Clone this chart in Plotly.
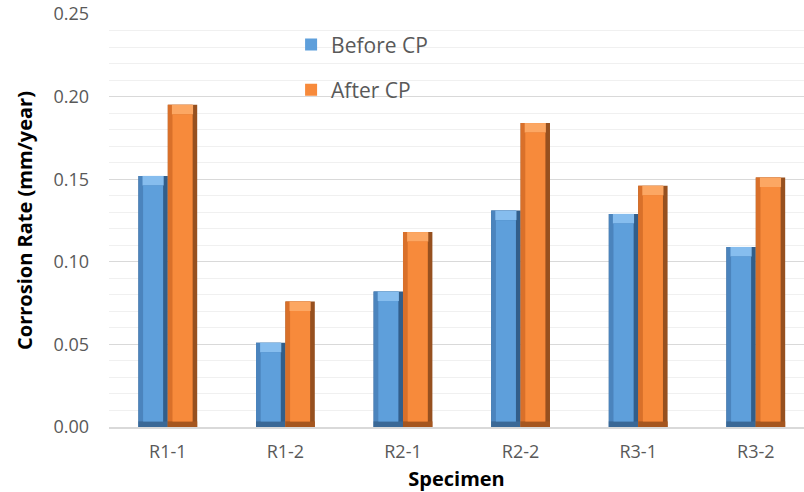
import plotly.graph_objects as go

# Corrosion rate per specimen, before and after cathodic protection
specimens = ["R1-1", "R1-2", "R2-1", "R2-2", "R3-1", "R3-2"]
before_cp = [0.152, 0.051, 0.082, 0.131, 0.129, 0.109]
after_cp = [0.195, 0.076, 0.118, 0.184, 0.146, 0.151]
y_ticks = [0.00, 0.05, 0.10, 0.15, 0.20, 0.25]

BAR_W = 0.25      # width of one bar in category units
EDGE_X = 0.04     # bevel width (x)
EDGE_Y = 0.0034   # bevel height (y)

palettes = {
    "Before CP": dict(face="#5e9fdb", left="#4b84bd", right="#325e8a",
                      top="#86bdee", bottom="#3a6896"),
    "After CP": dict(face="#f78a3b", left="#d9702a", right="#96501f",
                     top="#fca763", bottom="#a5561f"),
}

fig = go.Figure()


def add_beveled(name, values, offset, pal, legend_rank):
    n = len(values)
    # full bar in the shaded right-edge colour
    fig.add_trace(go.Bar(x=specimens, y=values, width=[BAR_W] * n,
                         offset=offset, marker=dict(color=pal["right"], line=dict(width=0)),
                         showlegend=False, hoverinfo="skip"))
    # left bevel + face region
    fig.add_trace(go.Bar(x=specimens, y=values, width=[BAR_W - EDGE_X] * n,
                         offset=offset, marker=dict(color=pal["left"], line=dict(width=0)),
                         showlegend=False, hoverinfo="skip"))
    # bottom bevel strip
    fig.add_trace(go.Bar(x=specimens, y=[EDGE_Y] * n, width=[BAR_W] * n,
                         offset=offset, marker=dict(color=pal["bottom"], line=dict(width=0)),
                         showlegend=False, hoverinfo="skip"))
    # top cap
    fig.add_trace(go.Bar(x=specimens, y=[EDGE_Y * 1.7] * n,
                         base=[v - EDGE_Y * 1.7 for v in values],
                         width=[BAR_W - 2 * EDGE_X + 0.01] * n, offset=offset + EDGE_X - 0.005,
                         marker=dict(color=pal["top"], line=dict(width=0)),
                         showlegend=False, hoverinfo="skip"))
    # main face
    fig.add_trace(go.Bar(x=specimens, y=[v - EDGE_Y * 2.7 for v in values],
                         base=[EDGE_Y] * n,
                         width=[BAR_W - 2 * EDGE_X] * n, offset=offset + EDGE_X,
                         marker=dict(color=pal["face"], line=dict(width=0)),
                         name=name, legendgroup=name, legendrank=legend_rank,
                         customdata=values,
                         hovertemplate="%{x}: %{customdata:.3f} mm/year<extra>" + name + "</extra>"))


add_beveled("Before CP", before_cp, -BAR_W, palettes["Before CP"], 1)
add_beveled("After CP", after_cp, 0.0, palettes["After CP"], 2)

FONT = "'Open Sans', sans-serif"

fig.update_layout(
    width=804, height=492,
    margin=dict(l=109, r=0, t=14, b=65),
    paper_bgcolor="white", plot_bgcolor="white",
    barmode="overlay",
    font=dict(family=FONT, color="#595959", size=18),
    legend=dict(x=0.262, y=0.975, xanchor="left", yanchor="top",
                bgcolor="rgba(0,0,0,0)", font=dict(size=21, color="#595959"),
                tracegroupgap=15, traceorder="grouped", itemwidth=30),
    xaxis=dict(
        range=[-0.5, 5.41], tickfont=dict(size=18, color="#595959"),
        showgrid=False, showline=True, linecolor="#d9d9d9", linewidth=1.5,
        ticks="", ticklabelstandoff=8,
        title=dict(text="<b>Specimen</b>", font=dict(size=20, color="black"), standoff=11),
    ),
    yaxis=dict(
        range=[0, 0.25], tickvals=y_ticks, ticktext=[f"{v:.2f}" for v in y_ticks],
        tickfont=dict(size=18, color="#595959"),
        showgrid=True, gridcolor="#d9d9d9", gridwidth=1.3,
        minor=dict(dtick=0.01, showgrid=True, gridcolor="#f0f0f0", gridwidth=1),
        zeroline=False, showline=False, ticks="", ticklabelstandoff=19,
        title=dict(text="<b>Corrosion Rate (mm/year)</b>",
                   font=dict(size=20, color="black"), standoff=15),
    ),
)

fig.write_html("out.html")
